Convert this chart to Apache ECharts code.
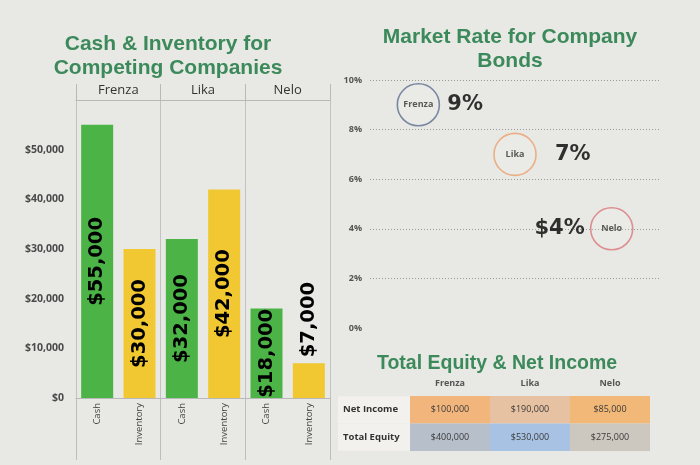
<!DOCTYPE html>
<html>
<head>
<meta charset="utf-8">
<script src="https://cdn.jsdelivr.net/npm/echarts@6/dist/echarts.min.js"></script>
<style>
html,body{margin:0;padding:0;background:#e8e8e4;}
#chart{width:700px;height:465px;}
</style>
</head>
<body>
<div id="chart"></div>
<script>
// ---- data ----
const companies = ['Frenza', 'Lika', 'Nelo'];
const metrics = ['Cash', 'Inventory'];
const cashValues = [55000, 32000, 18000];
const inventoryValues = [30000, 42000, 7000];
const rateValues = [9, 7, 4];
const rateLabels = ['9%', '7%', '$4%'];
const tableRows = ['Net Income', 'Total Equity'];
const netIncome = [100000, 190000, 85000];
const totalEquity = [400000, 530000, 275000];

// ---- styles ----
const titleGreen = '#3c8a5b';
const barColors = { Cash: '#4cb447', Inventory: '#f1c832' };
const circleColors = ['#5d6f8e', '#eba06e', '#d9777a'];
const cellColors = [
  ['#f2b67c', '#e7c2a2', '#f1b877'],
  ['#b7bfcb', '#a8c2e3', '#ccc7bf']
];
const money = v => '$' + v.toLocaleString('en-US');

// build bar categories / data
const cats = [];
const barData = [];
companies.forEach((c, i) => {
  metrics.forEach(m => {
    cats.push(c + '|' + m);
    const v = m === 'Cash' ? cashValues[i] : inventoryValues[i];
    const item = { value: v, itemStyle: { color: barColors[m] } };
    if (v < 15000) {
      item.label = { position: 'top', align: 'left', verticalAlign: 'middle', distance: 6, color: '#000' };
    }
    barData.push(item);
  });
});

const circleData = companies.map((c, i) => ({
  name: c, value: [c, rateValues[i]],
  itemStyle: { borderColor: circleColors[i] }
}));
const pctPos = [
  { position: 'right', distance: 8 },
  { position: 'right', distance: 19 },
  { position: 'left', distance: 6 }
];
const pctData = companies.map((c, i) => ({
  name: c, value: [c, rateValues[i]],
  label: Object.assign({ formatter: rateLabels[i], color: '#000', fontSize: 21, fontWeight: 'bold', fontFamily: 'DejaVu Sans' }, pctPos[i])
}));

const tableData = [];
tableRows.forEach((r, ri) => {
  const vals = ri === 0 ? netIncome : totalEquity;
  companies.forEach((c, ci) => tableData.push([ci, ri, vals[ci]]));
});

const chart = echarts.init(document.getElementById('chart'));
chart.setOption({
  backgroundColor: '#e8e8e4',
  animation: false,
  title: [
    { text: 'Cash & Inventory for\nCompeting Companies', left: 163, top: 27, textAlign: 'center',
      textStyle: { color: titleGreen, fontSize: 21, fontWeight: 'bold', lineHeight: 24, fontFamily: 'Liberation Sans' } },
    { text: 'Market Rate for Company\nBonds', left: 505, top: 20, textAlign: 'center',
      textStyle: { color: titleGreen, fontSize: 21, fontWeight: 'bold', lineHeight: 24, fontFamily: 'Liberation Sans' } },
    { text: 'Total Equity & Net Income', left: 492, top: 349, textAlign: 'center',
      textStyle: { color: titleGreen, fontSize: 19.5, fontWeight: 'bold', fontFamily: 'Liberation Sans' } }
  ],
  grid: [
    { left: 76, right: 370, top: 100, bottom: 67 },
    { left: 370, right: 40, top: 80, bottom: 137 },
    { left: 410, right: 50, top: 396, bottom: 14 }
  ],
  xAxis: [
    { gridIndex: 0, type: 'category', data: cats, position: 'bottom',
      axisLine: { lineStyle: { color: '#b8b8b8' } }, axisTick: { show: false },
      axisLabel: { rotate: 90, formatter: v => v.split('|')[1], fontSize: 9.5, color: '#444', margin: 5, fontFamily: 'Open Sans' } },
    { gridIndex: 0, type: 'category', data: companies, position: 'top',
      axisLine: { show: true, lineStyle: { color: '#b8b8b8' } },
      axisTick: { show: true, length: 16, lineStyle: { color: '#b8b8b8' } },
      axisLabel: { fontSize: 13, color: '#333', margin: 3, fontFamily: 'Open Sans' },
      splitLine: { show: true, lineStyle: { color: '#c2c2c2' } } },
    { gridIndex: 0, type: 'category', data: companies, position: 'bottom',
      axisLine: { show: false }, axisTick: { show: true, length: 62, lineStyle: { color: '#bdbdbd' } },
      axisLabel: { show: false } },
    { gridIndex: 1, type: 'category', data: companies, show: false },
    { gridIndex: 2, type: 'category', data: companies, position: 'top',
      axisLine: { show: false }, axisTick: { show: false },
      axisLabel: { fontSize: 9, fontWeight: 'bold', color: '#555', margin: 8, fontFamily: 'Open Sans' } }
  ],
  yAxis: [
    { gridIndex: 0, type: 'value', min: 0, max: 60000, interval: 10000,
      axisLine: { show: false }, axisTick: { show: false }, splitLine: { show: false },
      axisLabel: { formatter: v => v >= 60000 ? '' : money(v), fontSize: 10.5, fontWeight: 'bold', color: '#4a4a4a', margin: 12, fontFamily: 'Open Sans' } },
    { gridIndex: 1, type: 'value', min: 0, max: 10, interval: 2,
      axisLine: { show: false }, axisTick: { show: false },
      axisLabel: { formatter: '{value}%', fontSize: 9, fontWeight: 'bold', color: '#555', margin: 8, fontFamily: 'Open Sans' },
      splitLine: { show: true, lineStyle: { type: [1, 2], width: 1.2, color: ['rgba(0,0,0,0)', '#9a9a9a', '#9a9a9a', '#9a9a9a', '#9a9a9a', '#9a9a9a'] } } },
    { gridIndex: 2, type: 'category', data: tableRows, inverse: true,
      axisLine: { show: false }, axisTick: { show: false },
      axisLabel: { align: 'left', margin: 72, fontSize: 9.5, fontWeight: 'bold', color: '#333', fontFamily: 'Open Sans',
        backgroundColor: '#f2f1ed', width: 67, height: 27, lineHeight: 27, padding: [0, 0, 0, 5] } }
  ],
  series: [
    { type: 'bar', xAxisIndex: 0, yAxisIndex: 0, data: barData, barWidth: 32,
      label: { show: true, position: 'inside', rotate: 90, formatter: p => money(p.value),
        fontSize: 19.5, fontWeight: 'bold', fontFamily: 'DejaVu Sans', color: '#000' } },
    { type: 'scatter', xAxisIndex: 3, yAxisIndex: 1, data: circleData, symbolSize: 42,
      itemStyle: { color: 'rgba(255,255,255,0.15)', borderWidth: 1.6 },
      label: { show: true, position: 'inside', formatter: p => p.name, fontSize: 9, fontWeight: 'bold', color: '#333', fontFamily: 'Open Sans' } },
    { type: 'scatter', xAxisIndex: 3, yAxisIndex: 1, data: pctData, symbolSize: 42, silent: true,
      itemStyle: { color: 'rgba(0,0,0,0)' },
      label: { show: true, fontSize: 21, fontWeight: 'bold', fontFamily: 'DejaVu Sans', color: '#000' } },
    { type: 'custom', xAxisIndex: 4, yAxisIndex: 2, data: tableData, encode: { x: 0, y: 1 },
      renderItem: (params, api) => {
        const idx = params.dataIndex;
        const ri = Math.floor(idx / 3), ci = idx % 3;
        const c = api.coord([api.value(0), api.value(1)]);
        const s = api.size([1, 1]);
        return { type: 'group', children: [
          { type: 'rect', shape: { x: c[0] - s[0] / 2, y: c[1] - s[1] / 2, width: s[0], height: s[1] },
            style: { fill: cellColors[ri][ci] } },
          { type: 'text', style: { text: money(api.value(2)), x: c[0], y: c[1], align: 'center', verticalAlign: 'middle',
            fontSize: 9, fontFamily: 'Open Sans', fill: '#3a3a3a' } }
        ] };
      } }
  ]
});
</script>
</body>
</html>
